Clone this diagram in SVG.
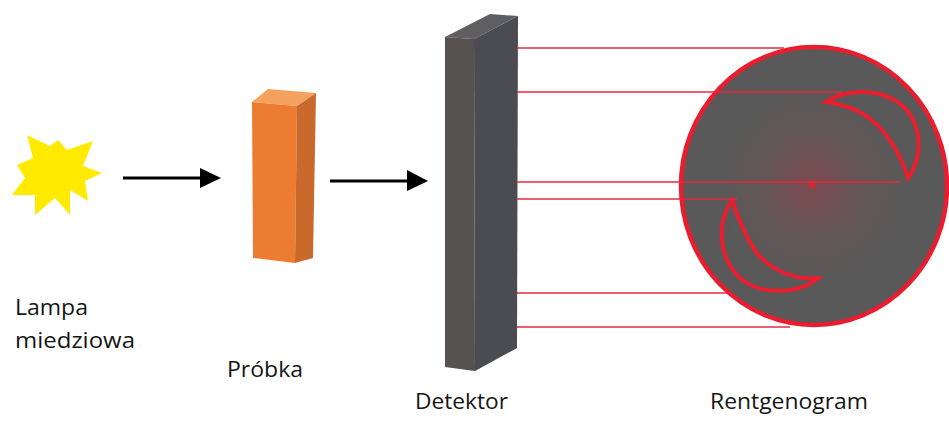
<svg xmlns="http://www.w3.org/2000/svg" width="949" height="422" viewBox="0 0 949 422">
  <defs>
    <style>
      .label { font-family: "Open Sans", "Liberation Sans", sans-serif; font-size: 21px; fill: #151515; }
      .ray { stroke: #e3283e; stroke-width: 1.5; fill: none; }
      .arrow { stroke: #000; stroke-width: 3; fill: none; }
      .head { fill: #000; }
      .ring { stroke: #ea1c2d; stroke-width: 4.5; }
      .crescent { stroke: #ea1c2d; stroke-width: 4; fill: none; stroke-linejoin: miter; }
    </style>
    <radialGradient id="glow" cx="812" cy="185" r="95" gradientUnits="userSpaceOnUse">
      <stop offset="0" stop-color="#7e4a4f"/>
      <stop offset="0.5" stop-color="#645557"/>
      <stop offset="1" stop-color="#595959"/>
    </radialGradient>
  </defs>

  <rect width="949" height="422" fill="#ffffff"/>

  <!-- copper lamp -->
  <g id="lamp">
    <polygon fill="#ffea00" points="27,135 50,146 58,140 67,150 93,141 83,166 102,173 85,181 88,201 70,190 70,215 55,198 35,215 35,195 12,195 25,178 17,165 33,158"/>
    <text class="label" x="15" y="315" textLength="73" lengthAdjust="spacingAndGlyphs">Lampa</text>
    <text class="label" x="15" y="348" textLength="120" lengthAdjust="spacingAndGlyphs">miedziowa</text>
  </g>

  <!-- sample block -->
  <g id="sample">
    <polygon fill="#f4a25e" points="252,102 297,106 316,93 268,89"/>
    <polygon fill="#ec7c32" points="252,102 297,106 295,263 253,258"/>
    <polygon fill="#c96a2c" points="297,106 316,93 313,258 295,263"/>
    <text class="label" x="227" y="377" textLength="76" lengthAdjust="spacingAndGlyphs">Próbka</text>
  </g>

  <!-- detector plate -->
  <g id="detector">
    <polygon fill="#5f5f61" points="445,37 474,39 518,16 490,14"/>
    <polygon fill="#55524f" points="445,37 474,39 475,371 445,367"/>
    <polygon fill="#4a4c51" points="474,39 518,16 517,348 475,371"/>
    <text class="label" x="415" y="409" textLength="93" lengthAdjust="spacingAndGlyphs">Detektor</text>
  </g>

  <!-- diffraction pattern -->
  <g id="rentgenogram">
    <ellipse class="ring" cx="814" cy="186" rx="133" ry="139" fill="url(#glow)"/>
    <path class="crescent" d="M826,102 C850,86 893,88 911,116 C923,136 920,162 908,178 C902,158 890,136 874,122 C860,110 844,104 826,102 Z"/>
    <path class="crescent" d="M732,200 C716,224 718,262 744,281 C764,295 800,294 818,278 C796,280 772,272 756,252 C745,236 738,218 732,200 Z"/>
    <circle cx="812" cy="185" r="3" fill="#ea1c2d"/>
    <text class="label" x="710" y="409" textLength="158" lengthAdjust="spacingAndGlyphs">Rentgenogram</text>
  </g>

  <!-- beam arrows and diffracted rays -->
  <g id="connectors">
    <line class="arrow" x1="123" y1="178" x2="202" y2="178"/>
    <polygon class="head" points="200,168 221,178 200,188"/>
    <line class="arrow" x1="330" y1="181" x2="409" y2="181"/>
    <polygon class="head" points="407,170 428,181 407,191"/>

    <line class="ray" x1="517" y1="48" x2="784" y2="48"/>
    <line class="ray" x1="517" y1="92" x2="842" y2="92"/>
    <line class="ray" x1="517" y1="182" x2="900" y2="182"/>
    <line class="ray" x1="517" y1="199" x2="737" y2="199"/>
    <line class="ray" x1="517" y1="293" x2="727" y2="293"/>
    <line class="ray" x1="517" y1="327" x2="790" y2="327"/>
  </g>
</svg>
